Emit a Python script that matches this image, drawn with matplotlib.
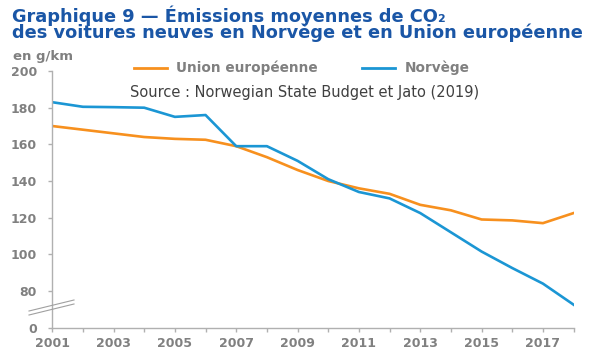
""" Graphique 9 - CO2 emissions of new cars, Norway vs EU """

import matplotlib
matplotlib.use('Agg')
import matplotlib.pyplot as plt
from matplotlib.lines import Line2D

# Data [g/km]
years = list(range(2001, 2019))
eu = [170, 168, 166, 164, 163, 162.5, 159, 153, 146, 140, 136, 133,
      127, 124, 119, 118.5, 117, 122.5]
norway = [183, 180.5, 180.3, 180, 175, 176, 159, 159, 151, 141, 134, 130.5,
          122.5, 112, 101.5, 92.5, 84, 72.5]
y_ticks = [60, 80, 100, 120, 140, 160, 180, 200]
y_labels = ['0', '80', '100', '120', '140', '160', '180', '200']
x_labels = list(range(2001, 2018, 2))

orange = '#f7901e'
blue = '#1b96d4'
grey = '#808080'
title_blue = '#1a56a6'
font = 'DejaVu Sans'

fig = plt.figure(figsize=(6, 3.5), dpi=100)
ax = fig.add_axes([0.087, 0.064, 0.869, 0.733])

ax.plot(years, eu, color=orange, lw=1.9, solid_joinstyle='round')
ax.plot(years, norway, color=blue, lw=1.9, solid_joinstyle='round')

ax.set_xlim(2001, 2018)
ax.set_ylim(60, 200)
ax.set_yticks(y_ticks)
ax.set_yticklabels(y_labels)
ax.set_xticks(years)
ax.set_xticklabels([str(y) if y in x_labels else '' for y in years])

for side in ['top', 'right']:
    ax.spines[side].set_visible(False)
for side in ['left', 'bottom']:
    ax.spines[side].set_color('#b0b0b0')
    ax.spines[side].set_linewidth(1.0)
ax.tick_params(colors='#b0b0b0', length=3, width=1.0)
for lab in ax.get_xticklabels() + ax.get_yticklabels():
    lab.set_color(grey)
    lab.set_fontweight('bold')
    lab.set_fontsize(9)
    lab.set_family(font)
ax.tick_params(axis='y', pad=8)
ax.tick_params(axis='x', pad=4)

# axis break marks
for dy in (0, 4):
    fig.add_artist(Line2D([29/600, 74/600],
                          [1 - (311 + dy)/350, 1 - (300 + dy)/350],
                          color='#a0a0a0', lw=0.8))

# titles
fig.text(12/600, 1 - 21.5/350, 'Graphique 9 \u2014 \u00c9missions moyennes de CO\u2082',
         family=font, fontweight='bold', fontsize=12.8,
         color=title_blue, va='baseline')
fig.text(12/600, 1 - 38.5/350, 'des voitures neuves en Norv\u00e8ge et en Union europ\u00e9enne',
         family=font, fontweight='bold', fontsize=12.8,
         color=title_blue, va='baseline')
fig.text(13/600, 1 - 60/350, 'en g/km', family=font,
         fontweight='bold', fontsize=9.5, color=grey, va='baseline')

# legend
fig.add_artist(Line2D([134/600, 167/600], [1 - 68/350] * 2, color=orange, lw=2))
fig.text(176/600, 1 - 72/350, 'Union europ\u00e9enne', family=font,
         fontweight='bold', fontsize=9.8, color=grey, va='baseline')
fig.add_artist(Line2D([362/600, 395/600], [1 - 68/350] * 2, color=blue, lw=2))
fig.text(405/600, 1 - 72/350, 'Norv\u00e8ge', family=font,
         fontweight='bold', fontsize=9.8, color=grey, va='baseline')
fig.text(130/600, 1 - 97/350, 'Source : Norwegian State Budget et Jato (2019)',
         family=font, fontsize=10.5, color='#404040', va='baseline')

fig.savefig('out.png', dpi=100)
